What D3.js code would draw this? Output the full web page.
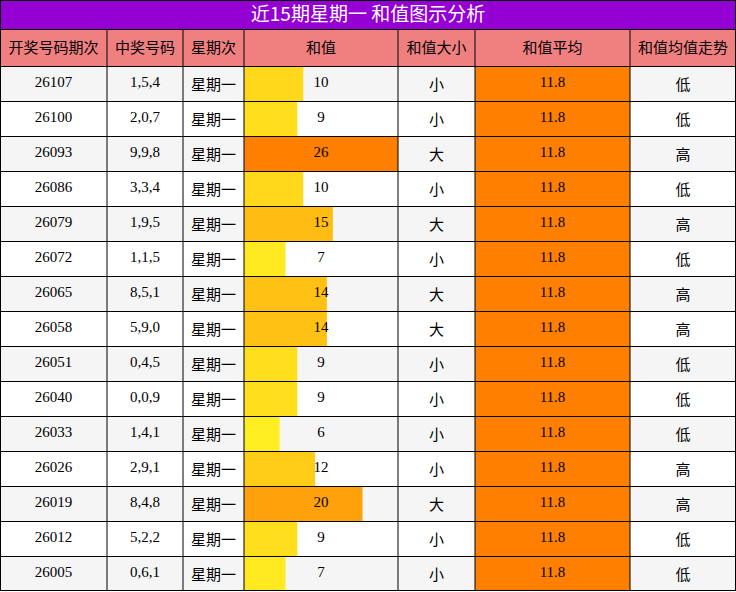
<!DOCTYPE html>
<html><head><meta charset="utf-8">
<script src="https://cdn.jsdelivr.net/npm/d3@7"></script>
<style>body{margin:0;background:#fff}</style>
</head><body>
<script>
// table data
var headers = ["开奖号码期次", "中奖号码", "星期次", "和值", "和值大小", "和值平均", "和值均值走势"];
var periods = ["26107","26100","26093","26086","26079","26072","26065","26058","26051","26040","26033","26026","26019","26012","26005"];
var numbers = ["1,5,4","2,0,7","9,9,8","3,3,4","1,9,5","1,1,5","8,5,1","5,9,0","0,4,5","0,0,9","1,4,1","2,9,1","8,4,8","5,2,2","0,6,1"];
var sums = [10,9,26,10,15,7,14,14,9,9,6,12,20,9,7];
var sizes = ["小","小","大","小","大","小","大","大","小","小","小","小","大","小","小"];
var avg = 11.8;
var trends = ["低","低","高","低","高","低","高","高","低","低","低","高","高","低","低"];

var colX = [0,107,183,244,398,475,630,736];
var titleH = 29, headH = 37, rowH = 35;
var W = 736, H = titleH + headH + rowH * periods.length;

var svg = d3.select("body").append("svg").attr("width", W).attr("height", H);
var sans = "'Noto Sans CJK SC', sans-serif", serif = "'Liberation Serif', serif";

svg.append("rect").attr("width", W).attr("height", titleH).attr("fill", "#9400D3");
svg.append("text").attr("x", W/2).attr("y", titleH/2 + 1).attr("text-anchor", "middle")
    .attr("dominant-baseline", "middle").attr("fill", "#fff").attr("font-family", sans)
    .attr("font-size", 19).text("近15期星期一 和值图示分析");

// header
var head = svg.append("g").attr("transform", "translate(0," + titleH + ")");
headers.forEach(function(h, i) {
  head.append("rect").attr("x", colX[i]).attr("width", colX[i+1]-colX[i]).attr("height", headH).attr("fill", "#F08080");
  head.append("text").attr("x", (colX[i]+colX[i+1])/2).attr("y", headH/2 + 1).attr("text-anchor", "middle")
      .attr("dominant-baseline", "middle").attr("font-family", sans).attr("font-size", 15).text(h);
});

var barX = d3.scaleLinear().domain([0, d3.max(sums)]).range([0, colX[4]-colX[3]]);
var barColor = d3.scaleLinear().domain([6, 26]).range(["#FFEE22", "#FF8000"]);
var y = function(i) { return titleH + headH + i * rowH; };

periods.forEach(function(p, i) {
  var g = svg.append("g").attr("transform", "translate(0," + y(i) + ")");
  var bg = i % 2 === 0 ? "#F5F5F5" : "#FFFFFF";
  for (var c = 0; c < 7; c++) {
    g.append("rect").attr("x", colX[c]).attr("width", colX[c+1]-colX[c]).attr("height", rowH)
        .attr("fill", c === 5 ? "#FF8000" : bg);
  }
  g.append("rect").attr("x", colX[3]).attr("width", barX(sums[i])).attr("height", rowH).attr("fill", barColor(sums[i]));
  var cells = [[p, serif], [numbers[i], serif], ["星期一", sans], [sums[i], serif], [sizes[i], sans], [avg.toFixed(1), serif], [trends[i], sans]];
  cells.forEach(function(d, c) {
    g.append("text").attr("x", (colX[c]+colX[c+1])/2).attr("y", rowH/2 + (d[1] === sans ? 2 : 0))
        .attr("text-anchor", "middle").attr("dominant-baseline", "middle")
        .attr("font-family", d[1]).attr("font-size", d[1] === sans ? 15 : 15).text(d[0]);
  });
});

// grid lines
var grid = svg.append("g").attr("stroke", "#000").attr("stroke-width", 1);
colX.forEach(function(x) {
  var xx = Math.min(Math.max(x, 0.5), W - 0.5);
  grid.append("line").attr("x1", xx).attr("x2", xx).attr("y1", titleH).attr("y2", H);
});
d3.range(periods.length + 1).forEach(function(i) {
  grid.append("line").attr("x1", 0).attr("x2", W).attr("y1", y(i) + 0.5).attr("y2", y(i) + 0.5);
});
grid.append("line").attr("x1", 0).attr("x2", W).attr("y1", titleH + 0.5).attr("y2", titleH + 0.5);
grid.append("line").attr("x1", 0).attr("x2", W).attr("y1", H - 0.5).attr("y2", H - 0.5);
grid.append("rect").attr("x", 0.5).attr("y", 0.5).attr("width", W-1).attr("height", H-1).attr("fill", "none");
</script>
</body></html>
